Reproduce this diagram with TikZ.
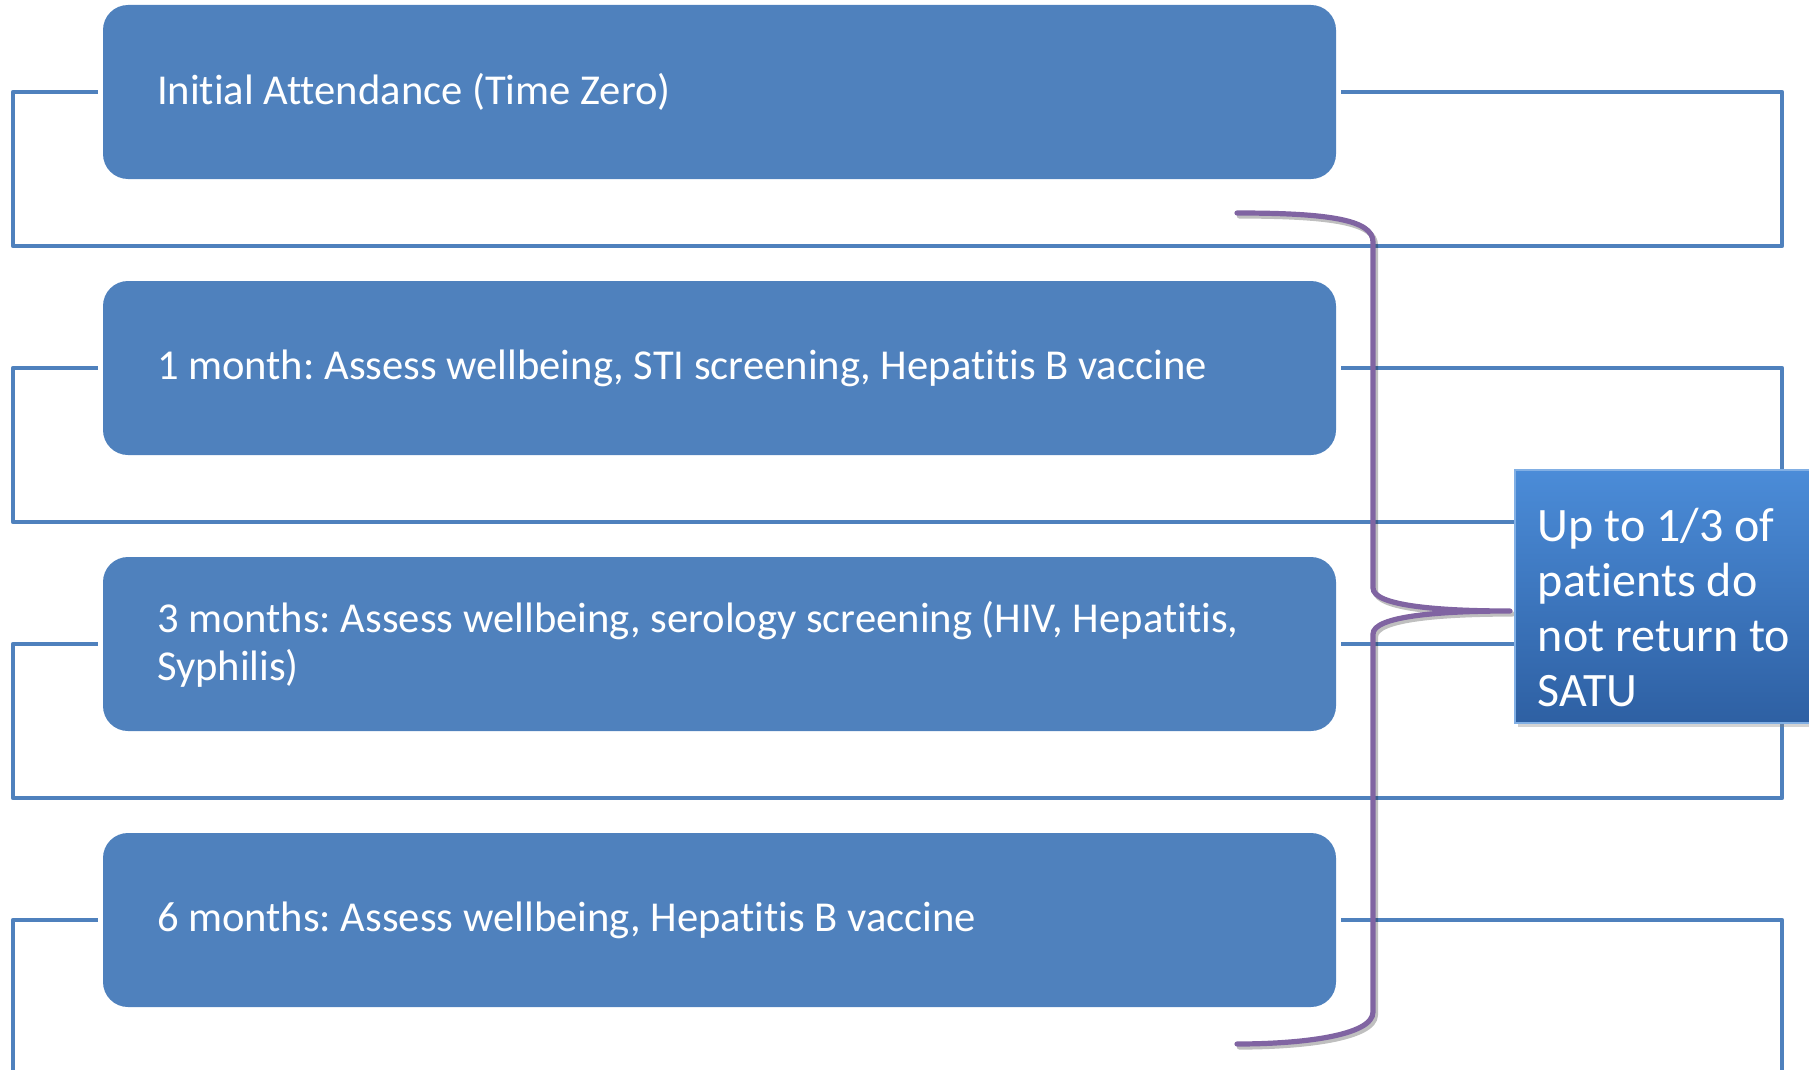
\documentclass[tikz,border=0pt]{standalone}
\usepackage{fontspec}
\setmainfont{Carlito}[Ligatures=NoCommon]
\usetikzlibrary{shadows}

\definecolor{stepblue}{HTML}{4F81BD}
\definecolor{bracepurple}{HTML}{8064A2}
\definecolor{notetop}{HTML}{4B8CD8}
\definecolor{notebottom}{HTML}{2E60A3}

\begin{document}
\frenchspacing
\begin{tikzpicture}[x=0.5pt, y=-0.5pt,
  visit/.style={fill=stepblue, rounded corners=12.5pt, minimum height=87pt,
    text width=562.5pt, inner xsep=27pt, align=flush left, text=white,
    font=\fontsize{21.3}{24}\selectfont},
  loopline/.style={draw=stepblue, line width=2.4pt, line join=round},
  brace/.style={draw=bracepurple, line width=2.6pt, line cap=round, line join=round},
  note/.style={top color=notetop, bottom color=notebottom, draw=notetop!70!white,
    line width=0.8pt, drop shadow={shadow xshift=1.5pt, shadow yshift=-2pt, opacity=0.35},
    minimum height=126.5pt, text width=140pt, inner xsep=11.5pt, align=flush left,
    text=white, font=\fontsize{24}{27.5}\selectfont}]
\clip (0,0) rectangle (1809,1070);

% the four visits
\node[visit] (b1) at (719.5,92)  {Initial Attendance (Time Zero)};
\node[visit] (b2) at (719.5,368) {1 month: Assess wellbeing, STI screening, Hepatitis B vaccine};
\node[visit] (b3) at (719.5,644) {3 months: Assess wellbeing, serology screening (HIV, Hepatitis,\\Syphilis)};
\node[visit] (b4) at (719.5,920) {6 months: Assess wellbeing, Hepatitis B vaccine};

% loop round each visit
\foreach \b/\y in {b1/92, b2/368, b3/644, b4/920}
  \draw[loopline] ([xshift=-2.5pt]\b.west) -| (13,{\y+154}) -| (1782,\y) -- ([xshift=2.5pt]\b.east);

% brace pointing at the note
\coordinate (top) at (1237,213);
\coordinate (tip) at (1510,611);
\coordinate (bot) at (1237,1044);
\draw[brace, black, opacity=0.25, transform canvas={xshift=1.2pt, yshift=-1.5pt}]
  (top) .. controls (1330,213) and (1373,220) .. (1373,242) -- (1373,588)
  .. controls (1373,606) and (1440,611) .. (tip)
  .. controls (1440,611) and (1373,616) .. (1373,634) -- (1373,1012)
  .. controls (1373,1036) and (1300,1044) .. (bot);
\draw[brace]
  (top) .. controls (1330,213) and (1373,220) .. (1373,242) -- (1373,588)
  .. controls (1373,606) and (1440,611) .. (tip)
  .. controls (1440,611) and (1373,616) .. (1373,634) -- (1373,1012)
  .. controls (1373,1036) and (1300,1044) .. (bot);

\node[note, anchor=north west] (note) at (1514,469)
  {\rule{0pt}{28pt}Up to 1/3 of\\patients do\\not return to\\SATU};
\end{tikzpicture}
\end{document}
